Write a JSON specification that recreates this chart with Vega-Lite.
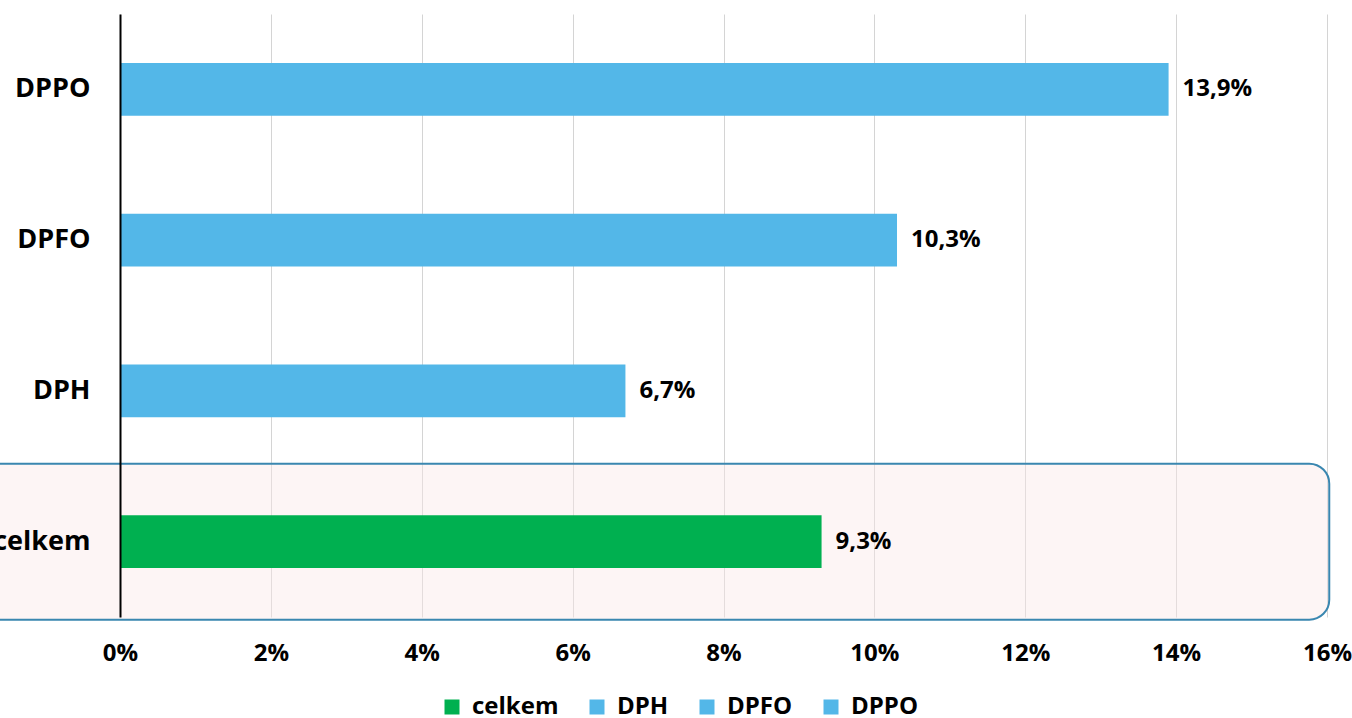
{
  "$schema": "https://vega.github.io/schema/vega-lite/v6.json",
  "width": 1207,
  "height": 603,
  "padding": {"left": 120, "top": 14, "right": 25, "bottom": 101},
  "autosize": {"type": "none"},
  "config": {
    "locale": {"number": {"decimal": ",", "thousands": " ", "grouping": [3], "currency": ["", " Kč"]}},
    "view": {"stroke": null},
    "font": "Open Sans"
  },
  "datasets": {
    "dane": [
      {"kategorie": "DPPO", "podil": 0.139},
      {"kategorie": "DPFO", "podil": 0.103},
      {"kategorie": "DPH", "podil": 0.067},
      {"kategorie": "celkem", "podil": 0.093}
    ],
    "ramecek": [
      {"kategorie": "celkem", "od": -0.02, "do": 0.1603}
    ]
  },
  "encoding": {
    "y": {
      "field": "kategorie",
      "type": "nominal",
      "scale": {"domain": ["DPPO", "DPFO", "DPH", "celkem"], "paddingInner": 0.65, "paddingOuter": 0.325},
      "axis": {
        "title": null,
        "zindex": 1,
        "domain": true,
        "domainColor": "#000000",
        "domainWidth": 2,
        "ticks": false,
        "grid": false,
        "labelPadding": 30,
        "labelFont": "Open Sans",
        "labelFontWeight": "bold",
        "labelFontSize": 27,
        "labelColor": "#000000"
      }
    }
  },
  "layer": [
    {
      "data": {"name": "ramecek"},
      "mark": {"type": "bar", "height": 156, "fill": "#fbe6e6", "fillOpacity": 0.42, "stroke": "#3a87b0", "strokeWidth": 2, "strokeOpacity": 1, "cornerRadius": 20, "clip": false},
      "encoding": {
        "x": {"field": "od", "type": "quantitative"},
        "x2": {"field": "do"}
      }
    },
    {
      "data": {"name": "dane"},
      "mark": {"type": "bar"},
      "encoding": {
        "x": {
          "field": "podil",
          "type": "quantitative",
          "scale": {"domain": [0, 0.16], "nice": false, "zero": true},
          "axis": {
            "title": null,
            "format": ".0%",
            "values": [0, 0.02, 0.04, 0.06, 0.08, 0.1, 0.12, 0.14, 0.16],
            "domain": false,
            "ticks": false,
            "grid": true,
            "gridColor": "#d4d4d4",
            "gridWidth": 1,
            "labelPadding": 24,
            "labelFont": "Open Sans",
            "labelFontWeight": "bold",
            "labelFontSize": 24,
            "labelColor": "#000000",
            "labelFlush": false
          }
        },
        "color": {
          "field": "kategorie",
          "type": "nominal",
          "scale": {"domain": ["celkem", "DPH", "DPFO", "DPPO"], "range": ["#00b050", "#53b7e8", "#53b7e8", "#53b7e8"]},
          "legend": {
            "title": null,
            "orient": "none",
            "legendX": 320,
            "legendY": 681,
            "direction": "horizontal",
            "symbolType": "square",
            "symbolSize": 225,
            "symbolStrokeWidth": 0,
            "labelFont": "Open Sans",
            "labelFontWeight": "bold",
            "labelFontSize": 24,
            "labelColor": "#000000",
            "labelOffset": 8,
            "columnPadding": 26
          }
        }
      }
    },
    {
      "data": {"name": "dane"},
      "mark": {"type": "text", "align": "left", "baseline": "middle", "dx": 14, "font": "Open Sans", "fontWeight": "bold", "fontSize": 24, "color": "#000000"},
      "encoding": {
        "x": {"field": "podil", "type": "quantitative"},
        "text": {"field": "podil", "type": "quantitative", "format": ".1%"}
      }
    }
  ]
}
